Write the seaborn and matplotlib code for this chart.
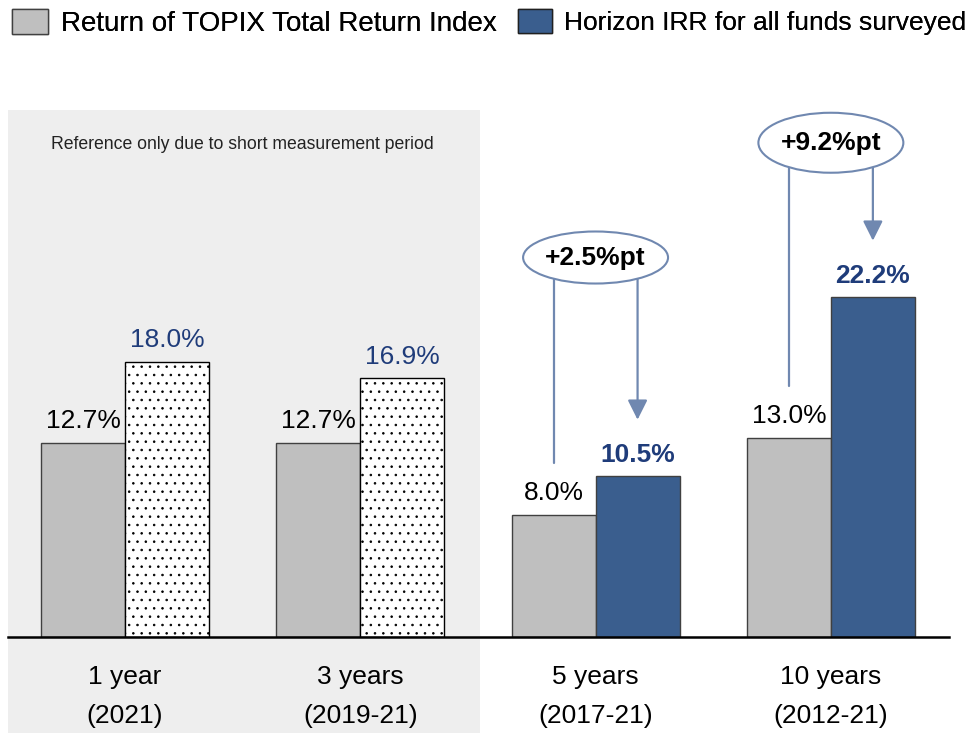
import numpy as np
import pandas as pd
import matplotlib
matplotlib.use("Agg")
import matplotlib.pyplot as plt
from matplotlib.patches import Rectangle, Ellipse, Patch
import seaborn as sns

# ------------------------------------------
# data
# ------------------------------------------
periods = ["1 year", "3 years", "5 years", "10 years"]
years = ["(2021)", "(2019-21)", "(2017-21)", "(2012-21)"]
series = ["Return of TOPIX Total Return Index", "Horizon IRR for all funds surveyed"]
topix = [12.7, 12.7, 8.0, 13.0]
irr = [18.0, 16.9, 10.5, 22.2]
diffs = ["", "", "+2.5%pt", "+9.2%pt"]
note = "Reference only due to short measurement period"

gray = "#BFBFBF"
blue = "#3A5E8E"
label_blue = "#1F3C7A"
arrow_c = "#7088B0"

labels = [f"{p}\n{y}" for p, y in zip(periods, years)]
df = pd.DataFrame({
    "period": labels * 2,
    "series": [series[0]] * 4 + [series[1]] * 4,
    "value": topix + irr,
})

# ------------------------------------------
# figure
# ------------------------------------------
sns.set_style("white")
plt.rcParams["font.family"] = ["Liberation Sans", "DejaVu Sans"]
plt.rcParams["text.color"] = "black"
plt.rcParams["xtick.color"] = "black"
plt.rcParams["hatch.linewidth"] = 0.6

fig = plt.figure(figsize=(9.71, 7.34), dpi=100)
ax = fig.add_axes([8 / 971, 1 - 637 / 734, 941 / 971, 527 / 734])
ax.patch.set_visible(False)
ax.set_zorder(2)

# shaded area for short-period groups
fig.patches.append(Rectangle((8 / 971, 1 / 734), 472 / 971, 623 / 734,
                             transform=fig.transFigure, facecolor="#EEEEEE",
                             edgecolor="none", zorder=-1))

sns.barplot(
    data=df, x="period", y="value", hue="series",
    palette=[gray, blue], width=0.714, edgecolor="#404040",
    linewidth=1, saturation=1, ax=ax, legend=False
)

# dotted bars for reference-only periods
for i in range(2):
    bar = ax.containers[1][i]
    bar.set_facecolor("white")
    bar.set_hatch("..")
    bar.set_edgecolor("black")

ax.set_xlim(-0.497, 3.502)
ax.set_ylim(0, 34.44)
ax.set_xlabel("")
ax.set_ylabel("")
ax.set_yticks([])
sns.despine(ax=ax, left=True)
ax.spines["bottom"].set_linewidth(1.8)
ax.spines["bottom"].set_color("black")
ax.tick_params(axis="x", length=0, pad=20, labelsize=19, colors="black")
for t in ax.get_xticklabels():
    t.set_linespacing(1.8)

# value labels
ax.bar_label(ax.containers[0], labels=[f"{v:.1f}%" for v in topix],
             padding=7, fontsize=19, color="black")
blue_labels = ax.bar_label(ax.containers[1], labels=[f"{v:.1f}%" for v in irr],
                           padding=7, fontsize=19, color=label_blue)
for i in range(2, 4):
    blue_labels[i].set_fontweight("bold")

ax.text(0.5, 32.2, note, ha="center", va="center", fontsize=12.7, color="#222222")

# difference callouts
off = 0.357 / 2
ell_y = [0, 0, 24.8, 32.3]
ell_h = [0, 0, 3.4, 3.92]
for i in range(2, 4):
    ax.plot([i - off, i - off], [ell_y[i], topix[i] + 3.4],
            color=arrow_c, lw=1.6, zorder=3)
    ax.annotate("", xy=(i + off, irr[i] + 3.7), xytext=(i + off, ell_y[i]),
                arrowprops=dict(arrowstyle="-|>", color=arrow_c, lw=1.6,
                                mutation_scale=30, shrinkA=0, shrinkB=0),
                zorder=3)
    ax.add_patch(Ellipse((i, ell_y[i]), 0.616, ell_h[i], facecolor="white",
                         edgecolor=arrow_c, lw=1.5, zorder=4))
    ax.text(i, ell_y[i], diffs[i], ha="center", va="center", fontsize=19,
            fontweight="bold", color="black", zorder=5)

# legend, one entry per box
handles = [Patch(facecolor=gray, edgecolor="#404040", lw=1),
           Patch(facecolor=blue, edgecolor="#202020", lw=1)]
anchors = [12 / 971, 518 / 971]
sizes = [20, 19]
for h, name, x0, fs in zip(handles, series, anchors, sizes):
    leg = fig.legend([h], [name], loc="upper left", bbox_to_anchor=(x0, 1 - 9 / 734),
                     frameon=False, fontsize=fs, handlelength=1.3, handleheight=1.0,
                     handletextpad=0.45, borderpad=0, borderaxespad=0)
    fig.add_artist(leg)

fig.savefig("out.png", dpi=100)
